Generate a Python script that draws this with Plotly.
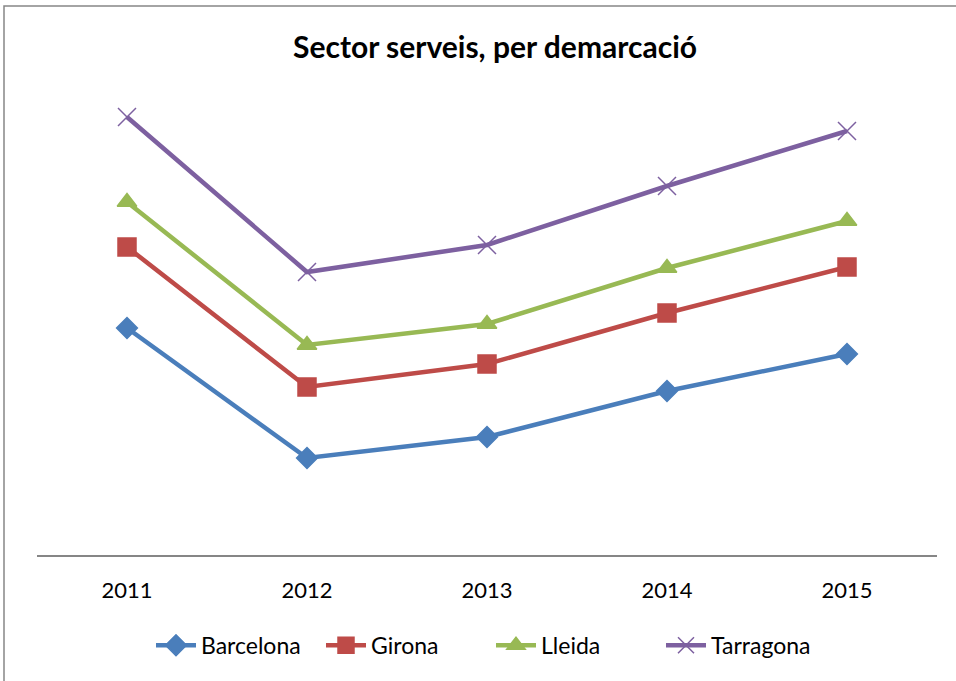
import plotly.graph_objects as go

years = ["2011", "2012", "2013", "2014", "2015"]
barcelona = [227, 97, 118, 164, 201]
girona = [308, 168, 191, 242, 288]
lleida = [353, 210, 231, 287, 334]
tarragona = [438, 283, 310, 369, 424]

series = [
    ("Barcelona", barcelona, "#4A7EBB", "diamond", 16),
    ("Girona", girona, "#BE4B48", "square", 18),
    ("Lleida", lleida, "#98B954", "triangle-up", 17),
    ("Tarragona", tarragona, "#7D60A0", "x-thin", 18),
]

FONT = "Lato"

fig = go.Figure()
for name, vals, color, sym, size in series:
    fig.add_trace(go.Scatter(
        x=years, y=vals, name=name, mode="lines+markers",
        line=dict(color=color, width=4.5),
        marker=dict(symbol=sym, size=size, color=color,
                    line=dict(color=color, width=1.5)),
    ))

fig.update_layout(
    width=956, height=681,
    margin=dict(l=37, r=19, t=80, b=126),
    paper_bgcolor="white", plot_bgcolor="white",
    title=dict(text="<b>Sector serveis, per demarcació</b>", x=495 / 956, xanchor="center",
               y=1 - 47 / 681, yanchor="middle",
               font=dict(family=FONT, size=30, color="black")),
    font=dict(family=FONT, color="black"),
    xaxis=dict(type="category", showgrid=False, zeroline=False, showline=True,
               linecolor="#868686", linewidth=1.5, ticks="",
               tickfont=dict(size=22), range=[-0.5, 4.5], ticklabelstandoff=15),
    yaxis=dict(range=[0, 475], visible=False, showgrid=False),
    legend=dict(orientation="h", x=(491 - 37) / 900, xanchor="center",
                y=-0.19, yanchor="middle",
                font=dict(size=23), itemwidth=40, traceorder="normal",
                entrywidth=115, entrywidthmode="pixels"),
    showlegend=True,
    shapes=[dict(type="rect", xref="paper", yref="paper",
                 x0=(4 - 37) / 900, x1=1.2, y0=-0.6, y1=(555 - 6) / 475,
                 line=dict(color="#868686", width=1.5))],
)

fig.write_html("out.html", config={"displayModeBar": False},
               post_script="document.body.style.margin='0';")
